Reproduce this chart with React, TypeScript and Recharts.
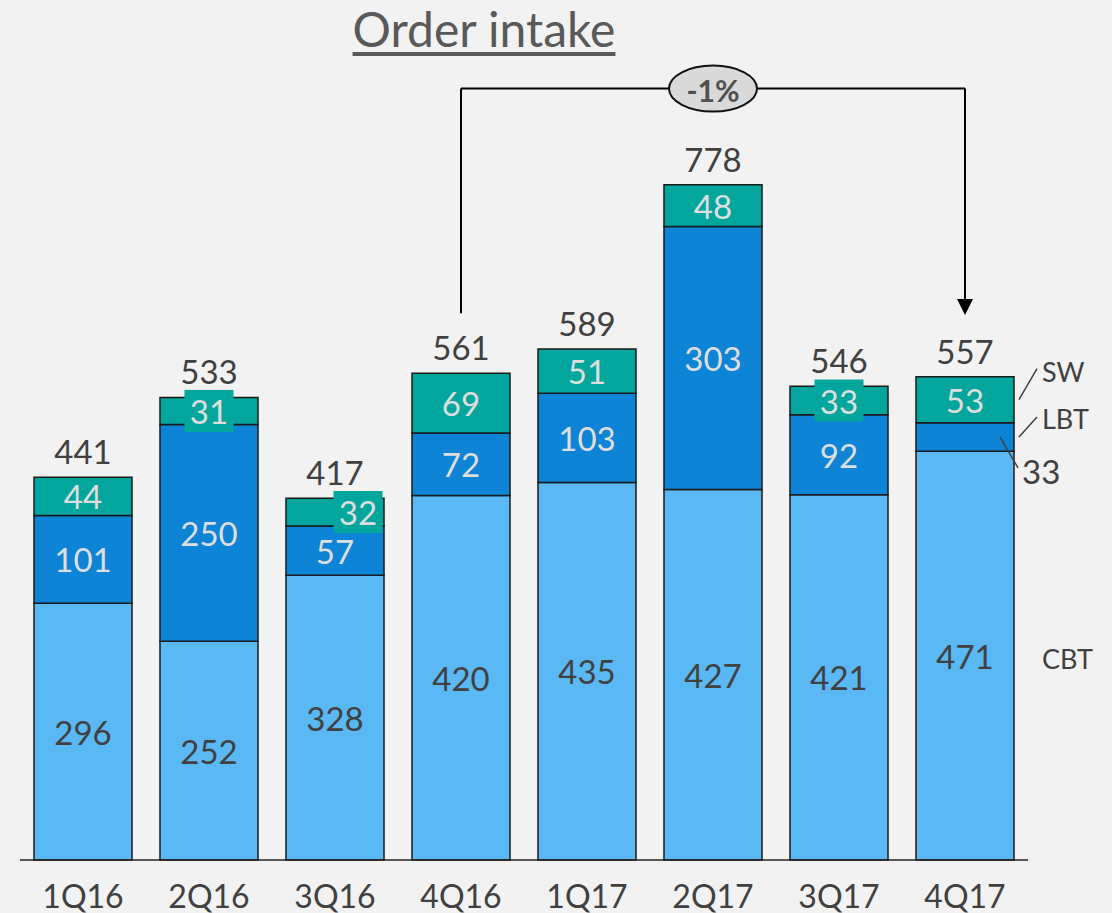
import React from "react";
import {
  BarChart,
  Bar,
  XAxis,
  YAxis,
  LabelList,
  ReferenceLine,
  ReferenceDot,
} from "recharts";

const quarters = ["1Q16", "2Q16", "3Q16", "4Q16", "1Q17", "2Q17", "3Q17", "4Q17"];
const cbt = [296, 252, 328, 420, 435, 427, 421, 471];
const lbt = [101, 250, 57, 72, 103, 303, 92, 33];
const sw = [44, 31, 32, 69, 51, 48, 33, 53];
const totals = [441, 533, 417, 561, 589, 778, 546, 557];

const FONT = "Lato, 'Open Sans', sans-serif";
const DARK = "#404040";
const LIGHT = "#dedede";
const LAST = quarters.length - 1;

// sw labels that sit on a teal box, with a horizontal nudge
const SW_BOX: Record<number, number> = { 1: 0, 2: 23, 6: 0 };

const data = quarters.map((q, i) => ({ q, cbt: cbt[i], lbt: lbt[i], sw: sw[i], total: totals[i] }));

const leader = (x1: number, y1: number, x2: number, y2: number) => (
  <line x1={x1} y1={y1} x2={x2} y2={y2} stroke={DARK} strokeWidth={1.5} />
);

const cbtLabel = (p: any) => {
  const { x, y, width, height, value, index } = p;
  const cx = x + width / 2;
  const cy = y + height / 2;
  return (
    <g fontFamily={FONT}>
      <text x={cx} y={cy} textAnchor="middle" dominantBaseline="central" fill={DARK} fontSize={33}>
        {value}
      </text>
      {index === LAST && (
        <text x={x + width + 28} y={cy + 3} dominantBaseline="central" fill={DARK} fontSize={27}>
          CBT
        </text>
      )}
    </g>
  );
};

const lbtLabel = (p: any) => {
  const { x, y, width, height, value, index } = p;
  const cx = x + width / 2;
  const cy = y + height / 2;
  if (index === LAST) {
    const r = x + width;
    return (
      <g fontFamily={FONT}>
        {leader(r - 14, cy, r + 4, cy + 31)}
        <text x={r + 8} y={cy + 34} dominantBaseline="central" fill={DARK} fontSize={33}>
          {value}
        </text>
        {leader(r + 5, cy, r + 23, cy - 20)}
        <text x={r + 28} y={cy - 18} dominantBaseline="central" fill={DARK} fontSize={27}>
          LBT
        </text>
      </g>
    );
  }
  return (
    <text x={cx} y={cy} textAnchor="middle" dominantBaseline="central" fill={LIGHT} fontSize={33} fontFamily={FONT}>
      {value}
    </text>
  );
};

const swLabel = (p: any) => {
  const { x, y, width, height, value, index } = p;
  const cx = x + width / 2;
  const cy = y + height / 2;
  const dx = SW_BOX[index];
  const r = x + width;
  return (
    <g fontFamily={FONT}>
      {dx !== undefined && <rect x={cx + dx - 24.5} y={cy - 21} width={49} height={42} fill="#02a69c" />}
      <text x={cx + (dx || 0)} y={cy} textAnchor="middle" dominantBaseline="central" fill={LIGHT} fontSize={33}>
        {value}
      </text>
      <text x={cx} y={y - 26} textAnchor="middle" dominantBaseline="central" fill={DARK} fontSize={33}>
        {totals[index]}
      </text>
      {index === LAST && (
        <>
          {leader(r + 5, cy, r + 23, cy - 31)}
          <text x={r + 28} y={cy - 28} dominantBaseline="central" fill={DARK} fontSize={27}>
            SW
          </text>
        </>
      )}
    </g>
  );
};

const QuarterTick = (p: any) => {
  const { x, y, payload } = p;
  return (
    <text x={x} y={y + 27} textAnchor="middle" dominantBaseline="central" fill={DARK} fontSize={32} fontFamily={FONT}>
      {payload.value}
    </text>
  );
};

const Arrowhead = (p: any) => {
  const { cx, cy } = p;
  return <polygon points={`${cx - 8},${cy - 16} ${cx + 8},${cy - 16} ${cx},${cy}`} fill="#000" />;
};

const ChangeBadge = (p: any) => {
  const { cx, cy } = p;
  return (
    <g>
      <ellipse cx={cx} cy={cy} rx={44} ry={23} fill="#d9d9d9" stroke="#111" strokeWidth={2} />
      <text x={cx} y={cy + 1} textAnchor="middle" dominantBaseline="central" fill="#505050" fontSize={30} fontWeight="bold" fontFamily={FONT}>
        -1%
      </text>
    </g>
  );
};

export default function App() {
  return (
    <div style={{ position: "absolute", left: 0, top: 0, width: 1112, height: 913, background: "#f2f2f2", overflow: "hidden" }}>
      <div
        style={{
          position: "absolute",
          left: 0,
          top: 0,
          width: 968,
          textAlign: "center",
          fontFamily: FONT,
          fontSize: 48,
          lineHeight: "58px",
          color: "#595959",
          textDecoration: "underline",
          textUnderlineOffset: 5,
        }}
      >
        Order intake
      </div>
      <BarChart
        width={1112}
        height={913}
        data={data}
        margin={{ top: 79, right: 84, left: 20, bottom: 0 }}
        barCategoryGap={14}
        style={{ position: "absolute", left: 0, top: 0 }}
      >
        <XAxis
          dataKey="q"
          height={53}
          axisLine={{ stroke: "#222", strokeWidth: 1.5 }}
          tickLine={false}
          tick={<QuarterTick />}
          interval={0}
        />
        <YAxis hide domain={[0, 900]} />
        <Bar dataKey="cbt" stackId="a" fill="#5ab8f5" stroke="#1a1a1a" strokeWidth={1.5} isAnimationActive={false}>
          <LabelList dataKey="cbt" content={cbtLabel} />
        </Bar>
        <Bar dataKey="lbt" stackId="a" fill="#0d84d5" stroke="#1a1a1a" strokeWidth={1.5} isAnimationActive={false}>
          <LabelList dataKey="lbt" content={lbtLabel} />
        </Bar>
        <Bar dataKey="sw" stackId="a" fill="#02a69c" stroke="#1a1a1a" strokeWidth={1.5} isAnimationActive={false}>
          <LabelList dataKey="sw" content={swLabel} />
        </Bar>
        <ReferenceLine segment={[{ x: "4Q16", y: 630 }, { x: "4Q16", y: 889 }]} stroke="#000" strokeWidth={2} />
        <ReferenceLine segment={[{ x: "4Q16", y: 889 }, { x: "4Q17", y: 889 }]} stroke="#000" strokeWidth={2} />
        <ReferenceLine segment={[{ x: "4Q17", y: 889 }, { x: "4Q17", y: 640 }]} stroke="#000" strokeWidth={2} />
        <ReferenceDot x="4Q17" y={628} shape={<Arrowhead />} />
        <ReferenceDot x="2Q17" y={889} shape={<ChangeBadge />} />
      </BarChart>
    </div>
  );
}
